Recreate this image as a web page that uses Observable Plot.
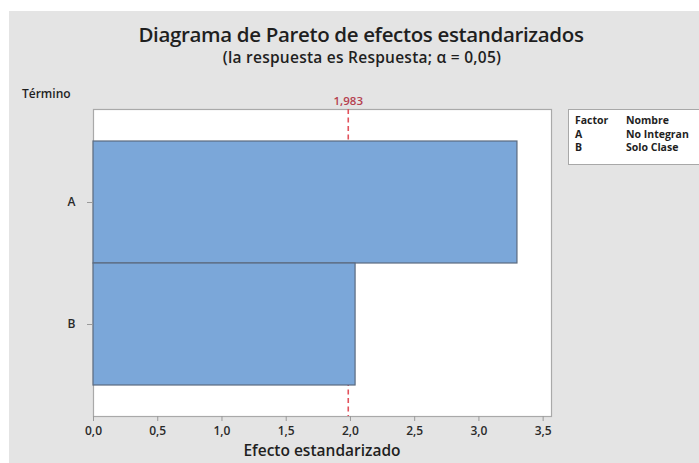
<!DOCTYPE html>
<html>
<head>
<meta charset="utf-8">
<script src="https://cdn.jsdelivr.net/npm/d3@7"></script>
<script src="https://cdn.jsdelivr.net/npm/@observablehq/plot@0.6"></script>
<style>
  html, body { margin: 0; padding: 0; background: #ffffff; }
  #wrap { position: relative; width: 699px; height: 463px; overflow: hidden; font-family: "Open Sans", sans-serif; }
  #bg { position: absolute; left: 9px; top: 11px; width: 690px; height: 452px; background: #e4e4e4; }
  .t { position: absolute; white-space: nowrap; color: #1f1f1f; }
  #title { left: 0; width: 722px; top: 20px; text-align: center; font-size: 20.5px; letter-spacing: -0.35px; font-weight: 600; line-height: 28px; }
  #subtitle { left: 0; width: 724px; top: 47px; text-align: center; font-size: 15.5px; letter-spacing: 0.25px; font-weight: 600; line-height: 20px; }
  #termino { left: 22px; top: 86px; font-size: 12px; font-weight: 600; line-height: 16px; }
  #xlabel { left: 93px; width: 458px; top: 440px; text-align: center; font-size: 15.5px; font-weight: 600; line-height: 20px; }
  #legend { position: absolute; left: 568px; top: 109px; width: 160px; height: 56px; background: #fff; border: 1px solid #a8a8a8; box-sizing: border-box; font-size: 10.5px; font-weight: 700; color: #1f1f1f; }
  #legend table { border-collapse: collapse; margin-left: 6px; margin-top: 4px; }
  #legend td { padding: 0; line-height: 13.5px; }
  #legend td.c1 { width: 51px; }
  #chart { position: absolute; left: 0; top: 0; }
</style>
</head>
<body>
<div id="wrap">
  <div id="bg"></div>
  <div class="t" id="title"></div>
  <div class="t" id="subtitle"></div>
  <div class="t" id="termino"></div>
  <div class="t" id="xlabel"></div>
  <div id="legend"></div>
  <div id="chart"></div>
</div>
<script>
// ---- data ----
const title = "Diagrama de Pareto de efectos estandarizados";
const subtitle = "(la respuesta es Respuesta; α = 0,05)";
const yTitle = "Término";
const xTitle = "Efecto estandarizado";
const terms = ["A", "B"];
const effects = [3.30, 2.04];
const critical = 1.983;
const xTicks = [0, 0.5, 1.0, 1.5, 2.0, 2.5, 3.0, 3.5];
const legendHeader = ["Factor", "Nombre"];
const factorCodes = ["A", "B"];
const factorNames = ["No Integran", "Solo Clase"];

// ---- text ----
document.getElementById("title").textContent = title;
document.getElementById("subtitle").textContent = subtitle;
document.getElementById("termino").textContent = yTitle;
document.getElementById("xlabel").textContent = xTitle;

const rows = [legendHeader].concat(factorCodes.map((c, i) => [c, factorNames[i]]));
const tbl = document.createElement("table");
rows.forEach(r => {
  const tr = document.createElement("tr");
  r.forEach((v, j) => {
    const td = document.createElement("td");
    td.textContent = v;
    if (j === 0) td.className = "c1";
    tr.appendChild(td);
  });
  tbl.appendChild(tr);
});
document.getElementById("legend").appendChild(tbl);

// ---- chart ----
const data = terms.map((t, i) => ({term: t, effect: effects[i]}));
const fmt = d => d.toFixed(1).replace(".", ",");

const chart = Plot.plot({
  width: 699,
  height: 463,
  marginLeft: 93,
  marginRight: 148,
  marginTop: 109,
  marginBottom: 47,
  style: {background: "transparent", fontFamily: "Open Sans, sans-serif", overflow: "visible"},
  x: {domain: [0, 3.565]},
  y: {domain: terms, paddingInner: 0, paddingOuter: 0.252},
  marks: [
    Plot.frame({fill: "white", stroke: "#a9a9a9", strokeWidth: 1.2}),
    Plot.ruleX([critical], {x: d => d, stroke: "#e2525c", strokeWidth: 1.6, strokeDasharray: "5,3.5"}),
    Plot.barX(data, {x: "effect", y: "term", fill: "#7ba7d9", stroke: "#5b6a7f", strokeWidth: 1.2}),
    Plot.text([critical], {x: d => d, frameAnchor: "top", lineAnchor: "bottom", dy: -5,
      text: d => d.toFixed(3).replace(".", ","), fill: "#b5404f", fontSize: 11.5, fontWeight: 600}),
    Plot.axisX({ticks: xTicks, tickFormat: fmt, tickSize: 5, tickPadding: 5, label: null,
      fontSize: 12, fontWeight: 600, fill: "#2a2a2a", stroke: "#9a9a9a"}),
    Plot.axisY({tickSize: 6, tickPadding: 12, label: null,
      fontSize: 12, fontWeight: 600, fill: "#2a2a2a", stroke: "#9a9a9a"})
  ]
});
document.getElementById("chart").appendChild(chart);
</script>
</body>
</html>
